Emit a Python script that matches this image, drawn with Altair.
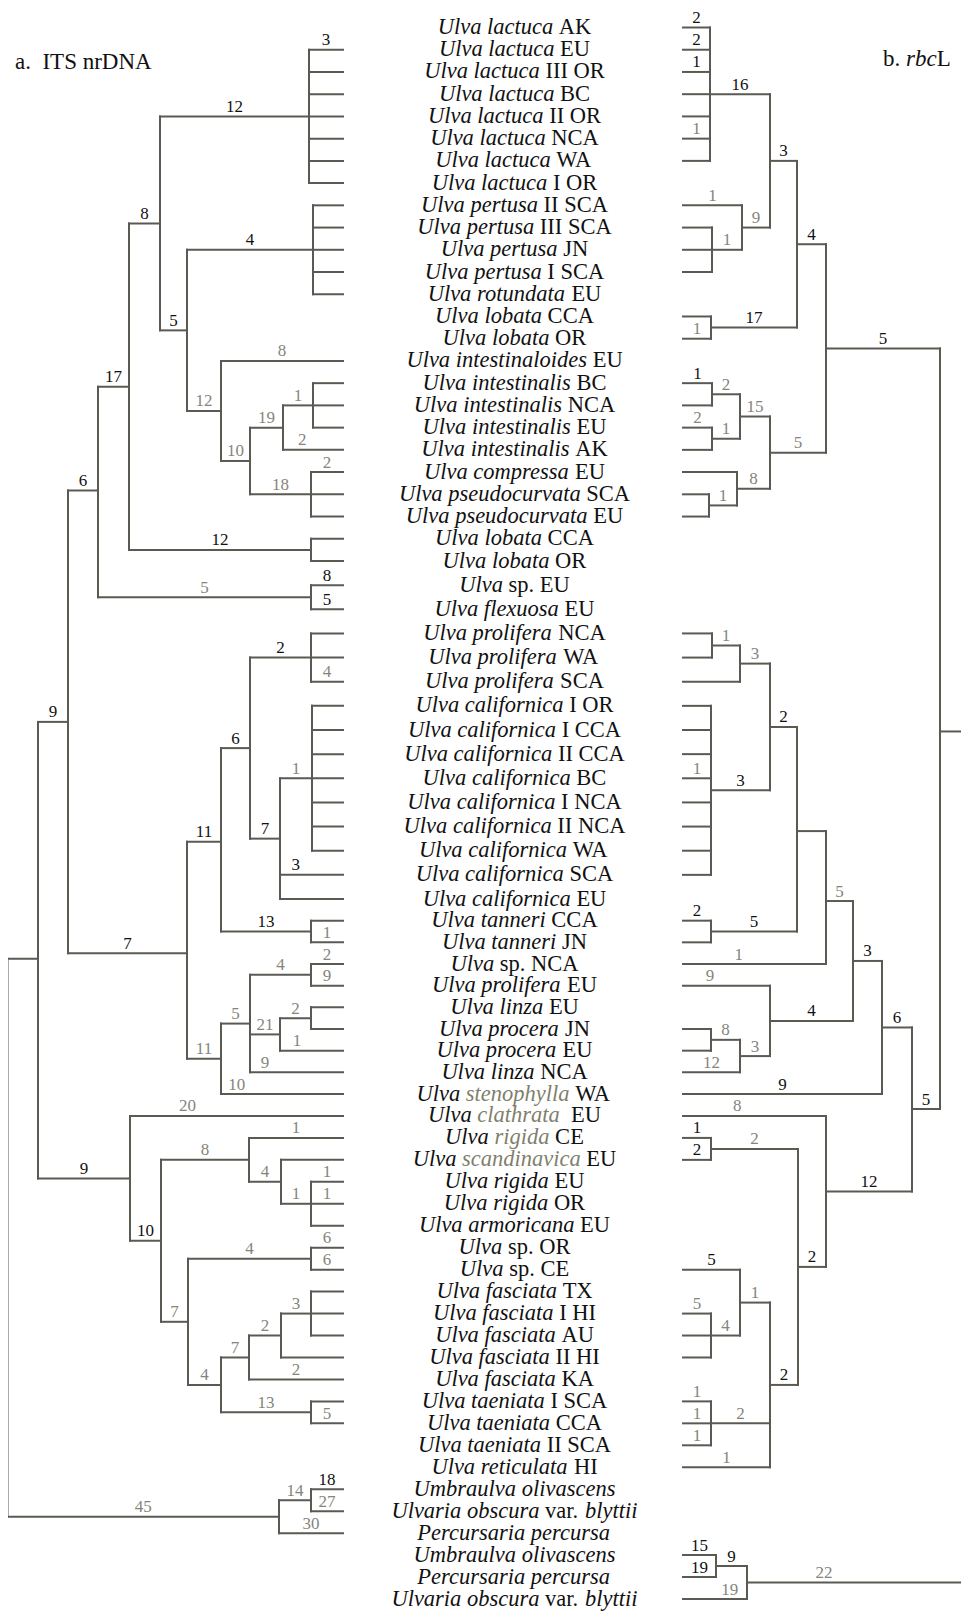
import altair as alt
import pandas as pd

# ---------------- taxa, one per row (markup: *italic*, ^grey italic^) ----------------
TAXA = [
    "*Ulva lactuca* AK", "*Ulva lactuca* EU", "*Ulva lactuca* III OR", "*Ulva lactuca* BC",
    "*Ulva lactuca* II OR", "*Ulva lactuca* NCA", "*Ulva lactuca* WA", "*Ulva lactuca* I OR",
    "*Ulva pertusa* II SCA", "*Ulva pertusa* III SCA", "*Ulva pertusa* JN", "*Ulva pertusa* I SCA",
    "*Ulva rotundata* EU", "*Ulva lobata* CCA", "*Ulva lobata* OR", "*Ulva intestinaloides* EU",
    "*Ulva intestinalis* BC", "*Ulva intestinalis* NCA", "*Ulva intestinalis* EU", "*Ulva intestinalis* AK",
    "*Ulva compressa* EU", "*Ulva pseudocurvata* SCA", "*Ulva pseudocurvata* EU", "*Ulva lobata* CCA",
    "*Ulva lobata* OR", "*Ulva* sp. EU", "*Ulva flexuosa* EU", "*Ulva prolifera* NCA",
    "*Ulva prolifera* WA", "*Ulva prolifera* SCA", "*Ulva californica* I OR", "*Ulva californica* I CCA",
    "*Ulva californica* II CCA", "*Ulva californica* BC", "*Ulva californica* I NCA", "*Ulva californica* II NCA",
    "*Ulva californica* WA", "*Ulva californica* SCA", "*Ulva californica* EU", "*Ulva tanneri* CCA",
    "*Ulva tanneri* JN", "*Ulva* sp. NCA", "*Ulva prolifera* EU", "*Ulva linza* EU",
    "*Ulva procera* JN", "*Ulva procera* EU", "*Ulva linza* NCA", "*Ulva* ^stenophylla^ WA",
    "*Ulva* ^clathrata^  EU", "*Ulva* ^rigida^ CE", "*Ulva* ^scandinavica^ EU", "*Ulva rigida* EU",
    "*Ulva rigida* OR", "*Ulva armoricana* EU", "*Ulva* sp. OR", "*Ulva* sp. CE",
    "*Ulva fasciata* TX", "*Ulva fasciata* I HI", "*Ulva fasciata* AU", "*Ulva fasciata* II HI",
    "*Ulva fasciata* KA", "*Ulva taeniata* I SCA", "*Ulva taeniata* CCA", "*Ulva taeniata* II SCA",
    "*Ulva reticulata* HI", "*Umbraulva olivascens*", "*Ulvaria obscura* var. *blyttii*",
    "*Percursaria percursa*", "*Umbraulva olivascens*", "*Percursaria percursa*",
    "*Ulvaria obscura* var. *blyttii*",
]

# ---------------- a. ITS nrDNA tree: (node, parent, depth, branch label, tone) ----------------
ITS_NODES = [
    ("root", None, 7.5, "", "k"), ("A", "root", 38, "", "k"), ("A9", "A", 68, "9", "k"),
    ("B", "A9", 98, "6", "k"), ("C17", "B", 129, "17", "k"), ("C8", "C17", 160, "8", "k"),
    ("lac", "C8", 309, "12", "k"), ("D", "C8", 187, "5", "k"), ("per", "D", 313, "4", "k"),
    ("E", "D", 221, "12", "g"), ("F", "E", 250, "10", "g"), ("G", "F", 283, "19", "g"),
    ("I", "G", 313, "1", "g"), ("H", "F", 311, "18", "g"), ("lob", "C17", 311, "12", "k"),
    ("sp", "B", 311, "5", "g"), ("K7", "A9", 187, "7", "k"), ("L11", "K7", 221, "11", "k"),
    ("N6", "L11", 250, "6", "k"), ("pro", "N6", 311, "2", "k"), ("O7", "N6", 280, "7", "k"),
    ("P1", "O7", 312, "1", "g"), ("tan", "L11", 311, "13", "k"), ("M11", "K7", 221, "11", "g"),
    ("Q5", "M11", 250, "5", "g"), ("R4", "Q5", 311, "4", "g"), ("S21", "Q5", 280, "21", "g"),
    ("T2", "S21", 311, "2", "g"), ("C10", "A", 130, "9", "k"), ("U", "C10", 161, "10", "k"),
    ("V8", "U", 249, "8", "g"), ("X4", "V8", 281, "4", "g"), ("Y", "X4", 311, "1", "g"),
    ("W7", "U", 188, "7", "g"), ("Z", "W7", 311, "4", "g"), ("AA4", "W7", 221, "4", "g"),
    ("BB7", "AA4", 249, "7", "g"), ("DD2", "BB7", 281, "2", "g"), ("EE3", "DD2", 311, "3", "g"),
    ("CC", "AA4", 311, "13", "g"), ("out", "root", 279, "45", "g"), ("FF", "out", 311, "14", "g"),
]
ITS_TIPS = {
    "lac": [1, 2, 3, 4, 5, 6, 7], "per": [8, 9, 10, 11, 12], "E": [15], "I": [16, 17, 18],
    "G": [19], "H": [20, 21, 22], "lob": [23, 24], "sp": [25, 26], "pro": [27, 28, 29],
    "P1": [30, 31, 32, 33, 34, 35, 36], "O7": [37, 38], "tan": [39, 40], "R4": [41, 42],
    "T2": [43, 44], "S21": [45], "Q5": [46], "M11": [47], "C10": [48], "V8": [49], "X4": [50],
    "Y": [51, 52, 53], "Z": [54, 55], "EE3": [56, 57, 58], "DD2": [59], "BB7": [60],
    "CC": [61, 62], "FF": [65, 66], "out": [67],
}
ITS_TIP_LABELS = {
    1: ("3", "k"), 15: ("8", "g"), 19: ("2", "g"), 20: ("2", "g"), 25: ("8", "k"), 26: ("5", "k"),
    29: ("4", "g"), 37: ("3", "k"), 40: ("1", "g"), 41: ("2", "g"), 42: ("9", "g"), 45: ("1", "g"),
    46: ("9", "g"), 47: ("10", "g"), 48: ("20", "g"), 49: ("1", "g"), 51: ("1", "g"), 52: ("1", "g"),
    54: ("6", "g"), 55: ("6", "g"), 60: ("2", "g"), 62: ("5", "g"), 65: ("18", "k"), 66: ("27", "g"),
    67: ("30", "g"),
}
# where a branch number sits along its branch (fraction from the parent end; default 0.5)
ITS_LABEL_AT = {"t19": 0.32, "t37": 0.25, "t45": 0.27, "t46": 0.16, "t47": 0.13, "t48": 0.27}

# ---------------- b. rbcL tree ----------------
RBCL_NODES = [
    ("root", None, 967, "", "k"), ("n940", "root", 940, "", "k"), ("a826", "n940", 826, "5", "k"),
    ("a797", "a826", 797, "4", "k"), ("a770", "a797", 770, "3", "k"), ("lac", "a770", 710, "16", "k"),
    ("n742", "a770", 742, "9", "g"), ("per", "n742", 712, "1", "g"), ("lob", "a797", 711, "17", "k"),
    ("b770", "a826", 770, "5", "g"), ("n740", "b770", 740, "15", "g"), ("int1", "n740", 712, "2", "g"),
    ("int2", "n740", 712, "1", "g"), ("n737", "b770", 737, "8", "g"), ("pse", "n737", 709, "1", "g"),
    ("n912", "n940", 912, "5", "k"), ("n882", "n912", 882, "6", "k"), ("n853", "n882", 853, "3", "k"),
    ("b826", "n853", 826, "5", "g"), ("b797", "b826", 797, "", "k"), ("c770", "b797", 770, "2", "k"),
    ("p740", "c770", 740, "3", "g"), ("pro", "p740", 712, "1", "g"), ("cal", "c770", 711, "3", "k"),
    ("tan", "b797", 711, "5", "k"), ("d770", "n853", 770, "4", "k"), ("q740", "d770", 740, "3", "g"),
    ("proc", "q740", 711, "8", "g"), ("c826", "n912", 826, "12", "k"), ("n798", "c826", 798, "2", "k"),
    ("rig", "n798", 711, "2", "g"), ("e770", "n798", 770, "2", "k"), ("f740", "e770", 740, "1", "g"),
    ("fas", "f740", 711, "4", "g"), ("tae", "e770", 711, "2", "g"), ("n747", "root", 747, "22", "g"),
    ("n716", "n747", 716, "9", "k"),
]
RBCL_TIPS = {
    "lac": [0, 1, 2, 3, 4, 5, 6], "n742": [8], "per": [9, 10, 11], "lob": [13, 14],
    "int1": [16, 17], "int2": [18, 19], "n737": [20], "pse": [21, 22], "pro": [27, 28],
    "p740": [29], "cal": [30, 31, 32, 33, 34, 35, 36, 37], "tan": [39, 40], "b826": [41],
    "d770": [42], "proc": [44, 45], "q740": [46], "n882": [47], "c826": [48], "rig": [49, 50],
    "f740": [55], "fas": [57, 58, 59], "tae": [61, 62, 63], "e770": [64], "n716": [68, 69],
    "n747": [70],
}
RBCL_TIP_LABELS = {
    0: ("2", "k"), 1: ("2", "k"), 2: ("1", "k"), 5: ("1", "g"), 8: ("1", "g"), 14: ("1", "g"),
    16: ("1", "k"), 18: ("2", "g"), 33: ("1", "g"), 39: ("2", "k"), 41: ("1", "g"),
    42: ("9", "g"), 46: ("12", "g"), 47: ("9", "k"), 48: ("8", "g"), 49: ("1", "k"), 50: ("2", "k"),
    55: ("5", "k"), 57: ("5", "g"), 61: ("1", "g"), 62: ("1", "g"), 63: ("1", "g"), 64: ("1", "g"),
    68: ("15", "k"), 69: ("19", "k"), 70: ("19", "g"),
}
RBCL_LABEL_AT = {"t41": 0.61, "t48": 0.62, "t42": 0.69, "n747": 0.65, "t70": 0.27}
ITS_TIP_DEPTH = 343
RBCL_TIP_DEPTH = 683


def build(nodes, tips, tip_labels, tip_depth, label_at):
    info, kids = {}, {}
    for nid, par, d, lab, tone in nodes:
        info[nid] = dict(x=d, par=par, lab=lab, tone=tone)
        if par is not None:
            kids.setdefault(par, []).append(nid)
    for par, rows in tips.items():
        for r in rows:
            key = "t%d" % r
            lab, tone = tip_labels.get(r, ("", "k"))
            info[key] = dict(x=tip_depth, par=par, lab=lab, tone=tone, row=r)
            kids.setdefault(par, []).append(key)
    cache = {}

    def gety(n):
        if n not in cache:
            if "row" in info[n]:
                cache[n] = info[n]["row"]
            else:
                ys = [gety(c) for c in kids[n]]
                cache[n] = (min(ys) + max(ys)) / 2
        return cache[n]

    segs, labs = [], []
    for n, d in info.items():
        y = gety(n)
        if n in kids:
            ys = [gety(c) for c in kids[n]]
            segs.append(dict(x=d["x"], x2=d["x"], y=min(ys), y2=max(ys)))
        if d["par"] is not None:
            px = info[d["par"]]["x"]
            segs.append(dict(x=px, x2=d["x"], y=y, y2=y))
            if d["lab"]:
                f = label_at.get(n, 0.5)
                labs.append(dict(x=px + f * (d["x"] - px), y=y, lab=d["lab"], tone=d["tone"]))
    return segs, labs


s1, l1 = build(ITS_NODES, ITS_TIPS, ITS_TIP_LABELS, ITS_TIP_DEPTH, ITS_LABEL_AT)
s2, l2 = build(RBCL_NODES, RBCL_TIPS, RBCL_TIP_LABELS, RBCL_TIP_DEPTH, RBCL_LABEL_AT)
seg_df = pd.DataFrame(s1 + s2)
lab_df = pd.DataFrame(l1 + l2)

# ---------------- taxon labels: mixed italic/roman runs, centred ----------------
FS = 22.5
ROMAN = {" ": 250, ".": 250, "A": 722, "B": 667, "C": 667, "D": 722, "E": 611, "H": 722, "I": 333,
         "J": 389, "K": 722, "L": 611, "N": 722, "O": 722, "R": 667, "S": 556, "T": 611, "U": 722,
         "W": 944, "X": 722, "a": 444, "b": 500, "n": 500, "p": 500, "r": 333, "s": 389, "v": 500}
ITALIC = {" ": 250, ".": 250, "P": 611, "U": 722, "a": 500, "b": 500, "c": 444, "d": 500, "e": 444,
          "f": 278, "g": 500, "h": 500, "i": 278, "k": 444, "l": 278, "m": 722, "n": 500, "o": 500,
          "p": 500, "r": 389, "s": 389, "t": 278, "u": 500, "v": 444, "x": 444, "y": 444, "z": 389}


def width(txt, style, size):
    table = ROMAN if style == "roman" else ITALIC
    return sum(table.get(c, 500) for c in txt) * size / 1000.0


def runs(markup):
    out, cur, style = [], "", "roman"
    for ch in markup:
        if ch in "*^":
            if cur:
                out.append((cur, style))
            cur = ""
            if style == "roman":
                style = "italic" if ch == "*" else "grey"
            else:
                style = "roman"
        else:
            cur += ch
    if cur:
        out.append((cur, style))
    return out


TEXT_CENTER = 514.5
txt_rows = []
for r, m in enumerate(TAXA):
    parts = runs(m)
    total = sum(width(t, s, FS) for t, s in parts)
    x = TEXT_CENTER - total / 2
    for t, s in parts:
        if t.strip():
            lead = len(t) - len(t.lstrip(" "))
            xo = x + width(" " * lead, s, FS)
            txt_rows.append(dict(x=xo, y=r, txt=t.strip(), style=s))
        x += width(t, s, FS)
txt_df = pd.DataFrame(txt_rows)

# ---------------- panel titles ----------------
TFS = 23
TITLES = [(7, 61, ["a.", "  ", "ITS nrDNA"], ["roman", "roman", "roman"]),
          (875, 58, ["b. ", "rbc", "L"], ["roman", "italic", "roman"])]
ttl_rows = []
for px, py, pieces, styles in TITLES:
    x = px
    for t, s in zip(pieces, styles):
        if t.strip():
            ttl_rows.append(dict(px=x, py=py, txt=t, style=s))
        x += width(t, s, TFS)
ttl_df = pd.DataFrame(ttl_rows)

# ---------------- chart ----------------
XS = alt.Scale(domain=[0, 969], range=[-8, 961], zero=False, nice=False)
YS = alt.Scale(domain=[0, 24, 38, 47, 70], range=[19.5, 553, 891, 1086, 1591], zero=False, nice=False)
LINE = "#5a5a53"
FONT = "Liberation Serif"

branches = alt.Chart(seg_df).mark_rule(color=LINE, strokeWidth=2, strokeCap="square").encode(
    x=alt.X("x:Q", scale=XS, axis=None), x2="x2:Q",
    y=alt.Y("y:Q", scale=YS, axis=None), y2="y2:Q",
)

numbers = alt.Chart(lab_df).mark_text(font=FONT, fontSize=17, dy=-4.5, align="center",
                                      baseline="alphabetic").encode(
    x=alt.X("x:Q", scale=XS, axis=None),
    y=alt.Y("y:Q", scale=YS, axis=None),
    text="lab:N",
    color=alt.Color("tone:N", scale=alt.Scale(domain=["k", "g"], range=["#111111", "#85857c"]),
                    legend=None),
)


def taxon_layer(style, fstyle, color):
    return alt.Chart(txt_df).transform_filter(alt.datum.style == style).mark_text(
        font=FONT, fontSize=FS, fontStyle=fstyle, align="left", baseline="alphabetic",
        dy=6.5, color=color,
    ).encode(
        x=alt.X("x:Q", scale=XS, axis=None),
        y=alt.Y("y:Q", scale=YS, axis=None),
        text="txt:N",
    )


def title_layer(style, fstyle):
    return alt.Chart(ttl_df).transform_filter(alt.datum.style == style).mark_text(
        font=FONT, fontSize=TFS, fontStyle=fstyle, align="left", baseline="alphabetic",
        color="#111111",
    ).encode(
        x=alt.X("px:Q", scale=None),
        y=alt.Y("py:Q", scale=None),
        text="txt:N",
    )


chart = alt.layer(
    branches,
    numbers,
    taxon_layer("italic", "italic", "#111111"),
    taxon_layer("grey", "italic", "#7f7f6c"),
    taxon_layer("roman", "normal", "#111111"),
    title_layer("roman", "normal"),
    title_layer("italic", "italic"),
).properties(
    width=953, height=1605, padding=0, autosize="none", background="white",
).configure_view(stroke=None)

chart.save("out.html", embed_options={"renderer": "svg", "actions": False})
